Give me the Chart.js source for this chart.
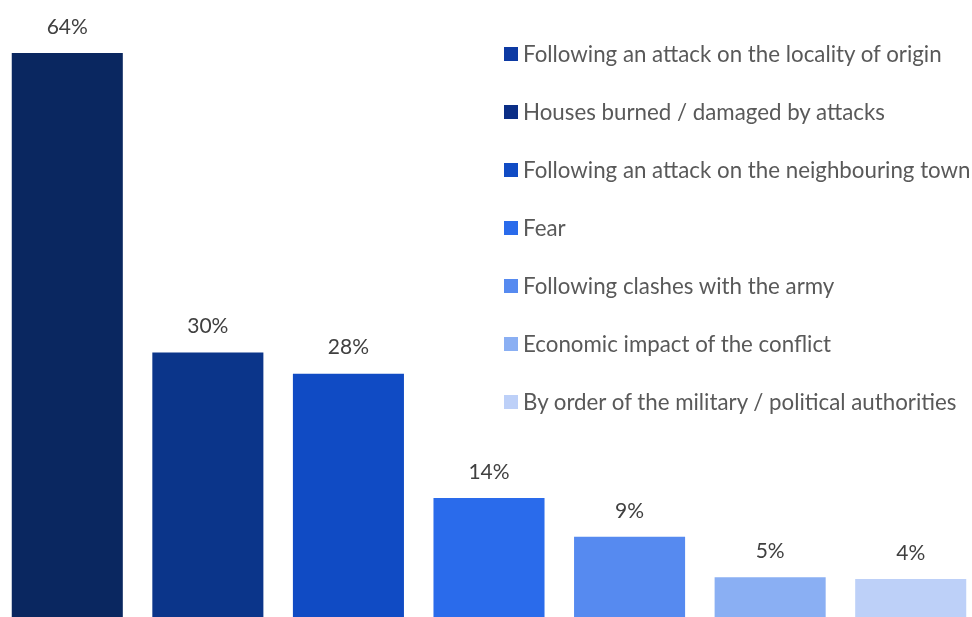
<!DOCTYPE html>
<html>
<head>
<meta charset="utf-8">
<script src="https://cdn.jsdelivr.net/npm/chart.js@4/dist/chart.umd.min.js"></script>
<style>
  html, body { margin: 0; padding: 0; background: #fff; overflow: hidden; }
  #wrap { position: relative; width: 972px; height: 617px; overflow: hidden; }
  #chartBox { position: absolute; left: -3px; top: 0; width: 984px; height: 617px; }
  #legend { position: absolute; left: 504px; top: 0; font-family: Lato, "Open Sans", sans-serif; font-size: 22.3px; color: #595959; }
  .item { position: absolute; left: 0; white-space: nowrap; height: 24px; line-height: 24px; }
  .box { position: absolute; left: 0; top: 5px; width: 14px; height: 14px; }
  .txt { position: absolute; left: 19px; top: 0; }
</style>
</head>
<body>
<div id="wrap">
  <div id="chartBox"><canvas id="reasonsChart"></canvas></div>
  <div id="legend"></div>
</div>
<script>
// Reasons for displacement (share of respondents)
const categories = [
  "Following an attack on the locality of origin",
  "Houses burned / damaged by attacks",
  "Following an attack on the neighbouring town",
  "Fear",
  "Following clashes with the army",
  "Economic impact of the conflict",
  "By order of the military / political authorities"
];
const values = [64, 30, 27.6, 13.5, 9.1, 4.5, 4.3];
const barColors = ["#0A2760", "#0B358A", "#104BC4", "#2A6BEB", "#568AF0", "#8AAFF3", "#BDD0F8"];
const legendColors = ["#0D3AA3", "#0B2E86", "#104BC4", "#2A6BEB", "#568AF0", "#8AAFF3", "#BDD0F8"];

// Build the legend by hand, it sits over the plot area
const legendEl = document.getElementById("legend");
categories.forEach((name, i) => {
  const item = document.createElement("div");
  item.className = "item";
  item.style.top = (42 + i * 58) + "px";
  item.innerHTML = `<span class="box" style="background:${legendColors[i]}"></span><span class="txt">${name}</span>`;
  legendEl.appendChild(item);
});

// Value labels above each bar
const barLabels = {
  id: "barLabels",
  afterDatasetsDraw(chart) {
    const ctx = chart.ctx;
    const meta = chart.getDatasetMeta(0);
    ctx.save();
    ctx.font = "21px Lato, 'Open Sans', sans-serif";
    ctx.fillStyle = "#404040";
    ctx.textAlign = "center";
    ctx.textBaseline = "middle";
    meta.data.forEach((bar, i) => {
      ctx.fillText(Math.round(values[i]) + "%", bar.x, bar.y - 26);
    });
    ctx.restore();
  }
};

const ctx = document.getElementById("reasonsChart").getContext("2d");
new Chart(ctx, {
  type: "bar",
  data: {
    labels: categories,
    datasets: [
      {
        data: values,
        backgroundColor: barColors,
        borderWidth: 0,
        barPercentage: 0.79,
        categoryPercentage: 1,
      },
    ],
  },
  options: {
    responsive: true,
    maintainAspectRatio: false,
    animation: false,
    layout: { padding: 0 },
    plugins: {
      legend: { display: false },
      tooltip: { enabled: false },
    },
    scales: {
      x: { display: false },
      y: { display: false, min: 0, max: 70 },
    },
  },
  plugins: [barLabels],
});
</script>
</body>
</html>
